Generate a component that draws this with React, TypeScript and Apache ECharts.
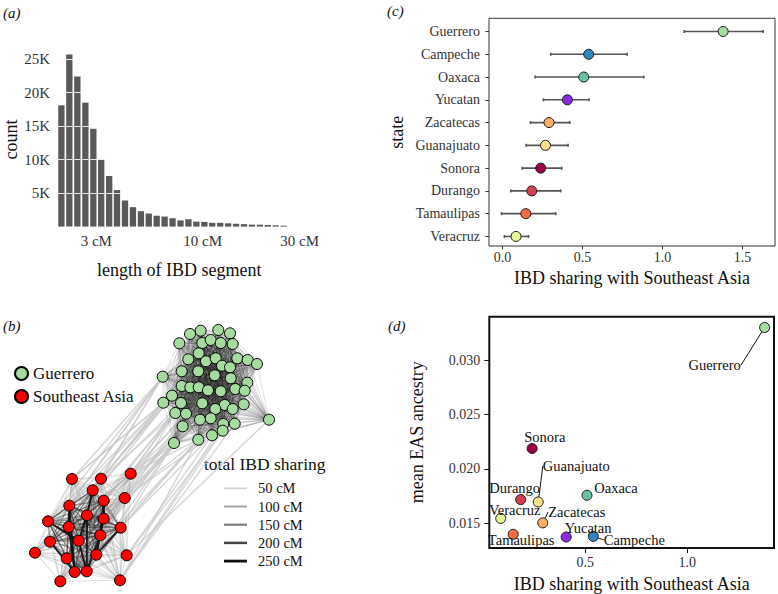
import React, { useEffect, useRef } from 'react';
import * as echarts from 'echarts';

const FONT = '"Liberation Serif", "DejaVu Serif", serif';

// ---------- (a) histogram of IBD segment lengths ----------
const binCentersCM = [2.02, 2.21, 2.42, 2.65, 2.9, 3.17, 3.47, 3.79, 4.15, 4.54, 4.97, 5.43, 5.94, 6.5, 7.11, 7.78, 8.51, 9.31, 10.19, 11.14, 12.19, 13.34, 14.59, 15.96, 17.46, 19.1, 20.9, 22.86, 25.01];
const binCounts = [18100, 25700, 22400, 18500, 14600, 10050, 7550, 5450, 3900, 2900, 2300, 1950, 1620, 1500, 1250, 920, 1100, 750, 700, 570, 560, 490, 420, 370, 300, 290, 240, 190, 140];
const histTickCM = [3, 10, 30];
const countTicks = [5000, 10000, 15000, 20000, 25000];

// ---------- (b) network ----------
const networkGroups = ['Guerrero', 'Southeast Asia'];
const greenPos = [
  [190.0, 334.0], [200.7, 330.7], [218.3, 330.0], [230.0, 333.3], [179.3, 343.3], [202.3, 343.0], [210.7, 340.0], [220.7, 343.0], [232.7, 344.0],
  [198.7, 353.3], [188.3, 359.3], [206.0, 361.3], [215.7, 358.3], [237.3, 358.3], [247.7, 360.0], [257.0, 364.0], [222.0, 365.7], [230.0, 367.3],
  [162.7, 376.7], [181.7, 371.3], [198.3, 371.3], [214.7, 375.3], [230.7, 378.3], [247.3, 382.7], [181.7, 386.0], [190.3, 387.3], [198.7, 387.3],
  [208.0, 390.3], [220.7, 391.3], [235.3, 389.0], [244.7, 390.7], [172.0, 395.7], [163.3, 402.7], [181.0, 403.0], [202.3, 403.3], [224.7, 405.0],
  [232.7, 409.0], [243.7, 404.3], [215.3, 409.0], [175.3, 413.0], [186.0, 413.7], [200.0, 419.7], [210.7, 418.3], [223.3, 424.0], [234.7, 423.7],
  [269.0, 419.7], [182.7, 426.3], [198.3, 439.7], [212.0, 435.3], [222.7, 430.7], [174.0, 443.0],
];
const redPos = [
  [72.0, 479.0], [101.0, 478.7], [130.7, 473.7], [92.7, 490.3], [103.7, 500.7], [124.7, 498.0], [69.3, 505.7], [87.0, 515.3], [103.7, 518.7],
  [48.0, 521.3], [68.7, 527.0], [120.7, 527.7], [100.3, 535.3], [50.0, 541.7], [78.7, 540.7], [35.0, 552.7], [96.3, 554.7], [126.7, 555.3],
  [66.7, 558.3], [74.7, 572.0], [86.7, 571.3], [60.3, 581.3], [120.0, 580.3],
];
// [red index, green index]
const crossEdges = [
  [0, 18], [0, 32], [1, 18], [1, 31], [1, 39], [2, 50], [2, 47], [2, 46], [2, 39], [2, 40], [3, 32], [3, 33], [4, 50], [4, 40], [5, 47], [5, 50],
  [5, 48], [6, 18], [7, 39], [8, 46], [9, 18], [11, 50], [11, 47], [12, 39], [13, 32], [16, 50], [17, 48], [17, 49], [22, 47], [22, 49], [22, 43],
  [21, 50], [15, 18], [10, 31], [14, 46], [19, 47], [5, 41], [2, 41], [1, 24], [0, 31], [22, 44], [17, 45], [3, 18], [4, 33], [2, 33], [5, 40],
  [6, 32], [8, 50], [11, 48], [16, 47], [12, 50], [9, 32],
];
const redCore = [3, 4, 6, 7, 8, 9, 10, 11, 12, 13, 14, 16, 18, 19, 20];
const strongRedEdges = [[6, 19], [7, 20], [8, 16], [4, 8], [10, 19], [12, 20], [14, 20], [3, 7], [9, 14], [11, 16], [13, 19], [7, 14], [4, 12], [6, 10]];
const sharingLegendLabels = ['50 cM', '100 cM', '150 cM', '200 cM', '250 cM'];
const sharingLegendColors = ['#d0d0d0', '#a6a6a6', '#7c7c7c', '#454545', '#111111'];
const sharingLegendWidths = [1.6, 2, 2.2, 2.5, 2.8];

// ---------- (c) & (d) ----------
const states = ['Guerrero', 'Campeche', 'Oaxaca', 'Yucatan', 'Zacatecas', 'Guanajuato', 'Sonora', 'Durango', 'Tamaulipas', 'Veracruz'];
const ibdMean = [1.379, 0.539, 0.508, 0.406, 0.291, 0.269, 0.239, 0.183, 0.146, 0.085];
const ibdLow = [1.136, 0.302, 0.204, 0.256, 0.175, 0.148, 0.123, 0.052, -0.006, 0.012];
const ibdHigh = [1.629, 0.779, 0.883, 0.541, 0.421, 0.41, 0.371, 0.364, 0.333, 0.163];
const easAncestry = [0.033, 0.01381, 0.01759, 0.01375, 0.01505, 0.01697, 0.02188, 0.01719, 0.014, 0.01546];
const stateColors = ['#a6dba0', '#3288bd', '#66c2a5', '#8a2be2', '#fdae61', '#fee08b', '#9e0142', '#d53e4f', '#f46d43', '#e6f598'];
const ibdTicksC = [0, 0.5, 1, 1.5];
const ibdTicksD = [0.5, 1.0];
const easTicks = [0.015, 0.02, 0.025, 0.03];
// label displacement (px) and whether a connector is drawn, panel (d)
const labelShift = [[-50, 38], [41, 3.5], [29, -7], [22, -9], [34, -11], [38, -36], [12.7, -11.7], [-6, -11.5], [8, 5.4], [14, -8.5]];
const labelConnector = [true, true, false, false, true, true, false, false, false, false];

export default function App() {
  const ref = useRef<HTMLDivElement>(null);
  useEffect(() => {
    document.body.style.margin = '0';
    const chart = echarts.init(ref.current!, null, { renderer: 'svg' });

    const tickText = { fontFamily: FONT, fontSize: 14, color: '#333' };
    const titleText = { fontFamily: FONT, fontSize: 18, color: '#111' };

    // network nodes & links
    const nG = greenPos.length;
    const nodes = [
      ...greenPos.map((p) => ({ value: p, category: 0 })),
      ...redPos.map((p) => ({ value: p, category: 1 })),
    ];
    const links: any[] = [];
    crossEdges.forEach(([r, g]) =>
      links.push({ source: nG + r, target: g, lineStyle: { color: '#c8c8c8', width: 1.4, opacity: 0.75 } })
    );
    for (let i = 0; i < nG; i++)
      for (let j = i + 1; j < nG; j++)
        links.push({ source: i, target: j, lineStyle: { color: '#1a1a1a', width: 0.7, opacity: 0.2 } });
    for (let i = 0; i < redPos.length; i++)
      for (let j = i + 1; j < redPos.length; j++) {
        const core = redCore.includes(i) && redCore.includes(j);
        links.push({
          source: nG + i,
          target: nG + j,
          lineStyle: core ? { color: '#262626', width: 1.3, opacity: 0.45 } : { color: '#9a9a9a', width: 1.1, opacity: 0.3 },
        });
      }
    strongRedEdges.forEach(([a, b]) =>
      links.push({ source: nG + a, target: nG + b, lineStyle: { color: '#0d0d0d', width: 2, opacity: 0.85 } })
    );

    const graphic: any[] = [
      { type: 'text', x: 3, y: 5, style: { text: '(a)', font: `italic 15px ${FONT}`, fill: '#111' } },
      { type: 'text', x: 387, y: 3, style: { text: '(c)', font: `italic 15px ${FONT}`, fill: '#111' } },
      { type: 'text', x: 3, y: 318, style: { text: '(b)', font: `italic 15px ${FONT}`, fill: '#111' } },
      { type: 'text', x: 388, y: 318, style: { text: '(d)', font: `italic 15px ${FONT}`, fill: '#111' } },
      {
        type: 'text', x: 204, y: 464,
        style: { text: 'total IBD sharing', font: `17.5px ${FONT}`, fill: '#111', verticalAlign: 'middle' },
      },
    ];
    sharingLegendLabels.forEach((lab, i) => {
      const y = 488.3 + 18.2 * i;
      graphic.push({
        type: 'line', shape: { x1: 224, y1: y, x2: 247, y2: y },
        style: { stroke: sharingLegendColors[i], lineWidth: sharingLegendWidths[i] },
      });
      graphic.push({
        type: 'text', x: 258, y,
        style: { text: lab, font: `14.5px ${FONT}`, fill: '#111', verticalAlign: 'middle' },
      });
    });

    const option: any = {
      animation: false,
      backgroundColor: '#fff',
      textStyle: { fontFamily: FONT },
      graphic,
      legend: [{
        data: networkGroups,
        left: 9, top: 360, orient: 'vertical', icon: 'circle', itemWidth: 13, itemHeight: 13, itemGap: 6,
        selectedMode: false,
        textStyle: { fontFamily: FONT, fontSize: 17, color: '#111' },
      }],
      grid: [
        { left: 54.2, top: 52.4, width: 250.2, height: 174.2 },
        { left: 0, top: 300, width: 300, height: 294 },
        { left: 489, top: 18.3, width: 286, height: 227.7, show: true, borderColor: '#333', borderWidth: 1 },
        { left: 489.3, top: 316.7, width: 284.7, height: 232.3, show: true, borderColor: '#111', borderWidth: 2 },
      ],
      xAxis: [
        {
          gridIndex: 0, type: 'value', min: 0.27, max: 1.5,
          axisLine: { show: false, onZero: false }, axisTick: { show: false }, splitLine: { show: false },
          axisLabel: {
            ...tickText, fontSize: 15, margin: 7, showMaxLabel: true,
            customValues: histTickCM.map((v) => Math.log10(v)),
            formatter: (v: number) => `${Math.round(Math.pow(10, v))} cM`,
          },
          name: 'length of IBD segment', nameLocation: 'middle', nameGap: 34, nameTextStyle: titleText,
        },
        { gridIndex: 1, type: 'value', min: 0, max: 300, show: false },
        {
          gridIndex: 2, type: 'value', min: -0.084, max: 1.703,
          axisLine: { show: false, onZero: false }, splitLine: { show: false },
          axisTick: { show: true, length: 3.5, lineStyle: { color: '#333' }, customValues: ibdTicksC },
          axisLabel: { ...tickText, margin: 4, customValues: ibdTicksC, formatter: (v: number) => v.toFixed(1) },
          name: 'IBD sharing with Southeast Asia', nameLocation: 'middle', nameGap: 23, nameTextStyle: titleText,
        },
        {
          gridIndex: 3, type: 'value', min: 0.029, max: 1.425,
          axisLine: { show: false, onZero: false }, splitLine: { show: false },
          axisTick: { show: true, length: 5, lineStyle: { color: '#111', width: 1 }, customValues: ibdTicksD },
          axisLabel: { ...tickText, margin: 7, customValues: ibdTicksD, formatter: (v: number) => v.toFixed(1) },
          name: 'IBD sharing with Southeast Asia', nameLocation: 'middle', nameGap: 27, nameTextStyle: titleText,
        },
      ],
      yAxis: [
        {
          gridIndex: 0, type: 'value', min: 0, max: 26000,
          axisLine: { show: false, onZero: false }, axisTick: { show: false }, splitLine: { show: false },
          axisLabel: { ...tickText, fontSize: 15, margin: 4, customValues: countTicks, formatter: (v: number) => `${v / 1000}K` },
          name: 'count', nameLocation: 'middle', nameGap: 33, nameRotate: 90, nameTextStyle: titleText,
        },
        { gridIndex: 1, type: 'value', min: 300, max: 594, inverse: true, show: false },
        {
          gridIndex: 2, type: 'value', min: -0.58, max: 9.42, inverse: true,
          axisLine: { show: false, onZero: false }, splitLine: { show: false },
          axisTick: { show: true, length: 3.5, lineStyle: { color: '#333' }, customValues: states.map((_, i) => i) },
          axisLabel: { ...tickText, margin: 9, customValues: states.map((_, i) => i), formatter: (v: number) => states[Math.round(v)] },
          name: 'state', nameLocation: 'middle', nameGap: 83, nameRotate: 90, nameTextStyle: titleText,
        },
        {
          gridIndex: 3, type: 'value', min: 0.01274, max: 0.03399,
          axisLine: { show: false, onZero: false }, splitLine: { show: false },
          axisTick: { show: true, length: 5, lineStyle: { color: '#111' }, customValues: easTicks },
          axisLabel: { ...tickText, margin: 9, customValues: easTicks, formatter: (v: number) => v.toFixed(3) },
          name: 'mean EAS ancestry', nameLocation: 'middle', nameGap: 63, nameRotate: 90, nameTextStyle: titleText,
        },
      ],
      series: [
        {
          type: 'bar', xAxisIndex: 0, yAxisIndex: 0, barWidth: 6.3,
          data: binCentersCM.map((c, i) => [Math.log10(c), binCounts[i]]),
          itemStyle: { color: '#595959' },
          silent: true,
          markLine: {
            silent: true, symbol: 'none', label: { show: false },
            lineStyle: { color: '#ffffff', width: 1, type: 'solid', opacity: 0.85 },
            data: countTicks.map((v) => ({ yAxis: v })),
          },
        },
        {
          type: 'graph', layout: 'none', coordinateSystem: 'cartesian2d', xAxisIndex: 1, yAxisIndex: 1,
          symbol: 'circle', symbolSize: 11, silent: true,
          categories: networkGroups.map((n, i) => ({
            name: n, itemStyle: { color: i === 0 ? '#a6dba0' : '#ff0000', borderColor: '#000', borderWidth: 1 },
          })),
          itemStyle: { borderColor: '#000', borderWidth: 1 },
          data: nodes,
          links,
          lineStyle: { curveness: 0 },
          emphasis: { disabled: true },
        },
        {
          type: 'custom', xAxisIndex: 2, yAxisIndex: 2, silent: true,
          data: states.map((_, i) => [ibdLow[i], ibdHigh[i], i]),
          encode: { x: [0, 1], y: 2 },
          renderItem: (params: any, api: any) => {
            const y = api.value(2);
            const a = api.coord([api.value(0), y]);
            const b = api.coord([api.value(1), y]);
            const st = { stroke: '#555', lineWidth: 1.6 };
            return {
              type: 'group',
              children: [
                { type: 'line', shape: { x1: a[0], y1: a[1], x2: b[0], y2: b[1] }, style: st },
                { type: 'line', shape: { x1: a[0], y1: a[1] - 1.5, x2: a[0], y2: a[1] + 1.5 }, style: st },
                { type: 'line', shape: { x1: b[0], y1: b[1] - 1.5, x2: b[0], y2: b[1] + 1.5 }, style: st },
              ],
            };
          },
        },
        {
          type: 'scatter', xAxisIndex: 2, yAxisIndex: 2, symbolSize: 10, silent: true,
          data: states.map((s, i) => ({ name: s, value: [ibdMean[i], i], itemStyle: { color: stateColors[i] } })),
          itemStyle: { borderColor: '#1a1a1a', borderWidth: 1, opacity: 1 },
        },
        {
          type: 'scatter', xAxisIndex: 3, yAxisIndex: 3, symbolSize: 10, silent: true,
          data: states.map((s, i) => ({
            name: s, value: [ibdMean[i], easAncestry[i]], itemStyle: { color: stateColors[i] },
            labelLine: { show: labelConnector[i] },
          })),
          itemStyle: { borderColor: '#1a1a1a', borderWidth: 1, opacity: 1 },
          label: {
            show: true, position: 'inside', formatter: '{b}', fontFamily: FONT, fontSize: 14.5, color: '#111',
          },
          labelLine: { show: true, lineStyle: { color: '#111', width: 1 } },
          labelLayout: (p: any) => ({ dx: labelShift[p.dataIndex][0], dy: labelShift[p.dataIndex][1] }),
        },
      ],
    };
    chart.setOption(option);
    return () => chart.dispose();
  }, []);
  return <div ref={ref} style={{ width: 778, height: 594 }} />;
}
